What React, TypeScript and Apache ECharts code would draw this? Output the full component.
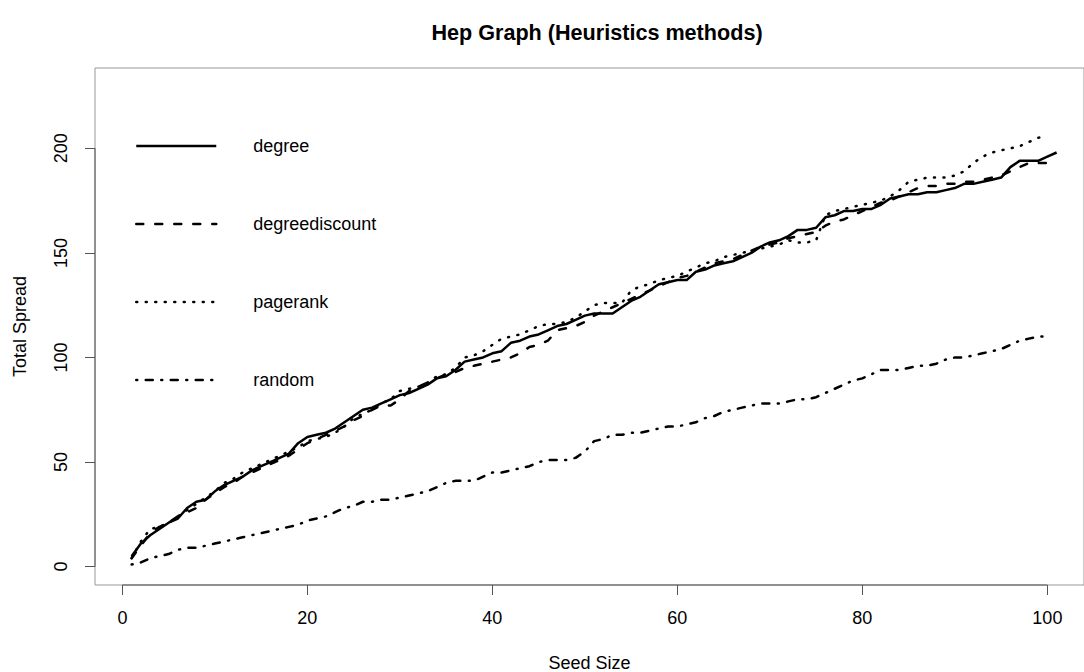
import React, { useEffect, useRef } from "react";
import * as echarts from "echarts";

// Seed size runs from 1; degree has one extra point (to 101)
const degree = [
  5, 11, 15, 18, 21, 23, 28, 31, 32, 36, 39, 41, 43, 46, 48, 50, 52, 54, 59, 62,
  63, 64, 66, 69, 72, 75, 76, 78, 80, 82, 83, 85, 87, 90, 91, 94, 98, 99, 100, 102,
  103, 107, 108, 110, 111, 113, 115, 116, 118, 120, 121, 121, 121, 124, 127, 129, 132, 135, 136, 137,
  137, 141, 142, 144, 145, 146, 148, 150, 153, 155, 156, 158, 161, 161, 162, 167, 168, 170, 170, 171,
  171, 173, 176, 177, 178, 178, 179, 179, 180, 181, 183, 183, 184, 185, 186, 191, 194, 194, 194, 196,
  198,
];
const degreeDiscount = [
  4, 10, 16, 19, 21, 24, 26, 28, 32, 35, 38, 40, 43, 45, 47, 49, 51, 53, 56, 59,
  61, 63, 65, 67, 70, 72, 75, 77, 77, 80, 84, 86, 88, 90, 92, 93, 95, 96, 97, 98,
  99, 100, 102, 105, 106, 108, 113, 114, 115, 117, 120, 122, 124, 126, 128, 130, 132, 134, 136, 138,
  139, 141, 143, 145, 146, 147, 149, 151, 153, 154, 155, 157, 158, 159, 160, 163, 165, 166, 168, 170,
  172, 174, 175, 177, 179, 181, 182, 182, 183, 183, 184, 184, 185, 186, 187, 189, 191, 193, 193, 193,
];
const pagerank = [
  4, 12, 18, 19, 21, 24, 27, 30, 33, 36, 40, 42, 45, 47, 49, 51, 53, 55, 57, 60,
  61, 62, 64, 67, 71, 73, 75, 78, 80, 84, 85, 86, 88, 91, 92, 95, 100, 101, 103, 106,
  109, 110, 111, 113, 115, 116, 116, 117, 119, 122, 125, 126, 126, 126, 132, 134, 135, 137, 138, 139,
  141, 143, 145, 146, 148, 149, 150, 151, 152, 153, 154, 156, 155, 155, 156, 168, 170, 171, 172, 173,
  174, 175, 177, 180, 184, 185, 186, 186, 186, 187, 189, 193, 196, 198, 199, 200, 201, 203, 205, 206,
];
const random = [
  1, 2, 4, 5, 6, 8, 9, 9, 10, 11, 12, 13, 14, 15, 16, 17, 18, 19, 20, 22,
  23, 24, 26, 28, 29, 31, 31, 32, 32, 33, 34, 35, 36, 38, 40, 41, 41, 41, 43, 45,
  45, 46, 47, 48, 50, 51, 51, 51, 52, 55, 60, 61, 63, 63, 64, 64, 65, 66, 67, 67,
  68, 69, 71, 72, 74, 75, 76, 77, 78, 78, 78, 79, 80, 80, 81, 83, 85, 87, 89, 90,
  92, 94, 94, 94, 95, 96, 96, 97, 99, 100, 100, 101, 102, 103, 104, 106, 108, 109, 110, 110,
];

const seriesNames = ["degree", "degreediscount", "pagerank", "random"];
const xTicks = [0, 20, 40, 60, 80, 100];
const yTicks = [0, 50, 100, 150, 200];

const X_MIN = -2.96;
const X_MAX = 103.96;
const Y_MIN = -8.8;
const Y_MAX = 238.4;

const FONT = "'Liberation Sans', Arial, Helvetica, sans-serif";
const LW = 2.5;
const FS = 18;

const dashStyles: any[] = [
  { type: "solid", cap: "butt" },
  { type: [7, 12], cap: "round" },
  { type: [1, 8.5], cap: "round" },
  { type: [1, 8.5, 7, 8.5], cap: "round" },
];

const toPairs = (vals: number[]) => vals.map((v, i) => [i + 1, v]);

export default function App() {
  const ref = useRef<HTMLDivElement>(null);

  useEffect(() => {
    if (!ref.current) return;
    const chart = echarts.init(ref.current, undefined, { renderer: "svg" });
    const allData = [degree, degreeDiscount, pagerank, random];

    const dataSeries = allData.map((vals, i) => ({
      name: seriesNames[i],
      type: "line",
      data: toPairs(vals),
      symbol: "none",
      showSymbol: false,
      smooth: false,
      silent: true,
      lineStyle: {
        color: "#000",
        width: LW,
        type: dashStyles[i].type,
        cap: dashStyles[i].cap,
        join: "round",
      },
      itemStyle: { color: "#000" },
      z: 3,
    }));

    const axisLineSeries = [
      {
        name: "xAxisLine",
        type: "line",
        data: [
          [xTicks[0], Y_MIN],
          [xTicks[xTicks.length - 1], Y_MIN],
        ],
        symbol: "none",
        clip: false,
        silent: true,
        lineStyle: { color: "#555", width: 1 },
        z: 4,
      },
      {
        name: "yAxisLine",
        type: "line",
        data: [
          [X_MIN, yTicks[0]],
          [X_MIN, yTicks[yTicks.length - 1]],
        ],
        symbol: "none",
        clip: false,
        silent: true,
        lineStyle: { color: "#555", width: 1 },
        z: 4,
      },
    ];

    chart.setOption({
      animation: false,
      backgroundColor: "#fff",
      textStyle: { fontFamily: FONT },
      title: {
        text: "Hep Graph (Heuristics methods)",
        left: 597,
        top: 21,
        textAlign: "center",
        padding: 0,
        textStyle: { fontFamily: FONT, fontSize: 21.6, fontWeight: "bold", color: "#000" },
      },
      grid: {
        left: 95,
        top: 68,
        width: 989,
        height: 517,
        outerBoundsMode: "none",
        containLabel: false,
        show: true,
        borderColor: "#999",
        borderWidth: 1,
        backgroundColor: "transparent",
      },
      legend: {
        orient: "vertical",
        left: 135,
        top: 136,
        padding: 0,
        itemWidth: 80,
        itemHeight: 20,
        itemGap: 58,
        selectedMode: false,
        itemStyle: { opacity: 0 },
        textStyle: {
          fontFamily: FONT,
          fontSize: FS,
          color: "#000",
          lineHeight: 20,
          padding: [0, 0, 0, 32],
        },
        data: seriesNames.map((n, i) => ({
          name: n,
          lineStyle: {
            color: "#000",
            width: LW,
            type: dashStyles[i].type,
            cap: dashStyles[i].cap,
          },
          itemStyle: { opacity: 0 },
        })),
      },
      xAxis: {
        type: "value",
        min: X_MIN,
        max: X_MAX,
        name: "Seed Size",
        nameLocation: "middle",
        nameGap: 69,
        nameTextStyle: { fontFamily: FONT, fontSize: FS, color: "#000" },
        axisLine: { show: false, onZero: false },
        splitLine: { show: false },
        axisTick: {
          show: true,
          length: 10,
          customValues: xTicks,
          lineStyle: { color: "#555", width: 1 },
        },
        axisLabel: {
          customValues: xTicks,
          margin: 24,
          fontFamily: FONT,
          fontSize: FS,
          color: "#000",
        },
      },
      yAxis: {
        type: "value",
        min: Y_MIN,
        max: Y_MAX,
        name: "Total Spread",
        nameLocation: "middle",
        nameGap: 66,
        nameRotate: 90,
        nameTextStyle: { fontFamily: FONT, fontSize: FS, color: "#000" },
        axisLine: { show: false, onZero: false },
        splitLine: { show: false },
        axisTick: {
          show: true,
          length: 10,
          customValues: yTicks,
          lineStyle: { color: "#555", width: 1 },
        },
        axisLabel: {
          customValues: yTicks,
          rotate: 90,
          margin: 25,
          fontFamily: FONT,
          fontSize: FS,
          color: "#000",
        },
      },
      series: [...dataSeries, ...axisLineSeries],
    });

    return () => {
      chart.dispose();
    };
  }, []);

  return (
    <div
      ref={ref}
      style={{
        position: "fixed",
        left: 0,
        top: 0,
        width: 1084,
        height: 672,
        background: "#fff",
      }}
    />
  );
}
